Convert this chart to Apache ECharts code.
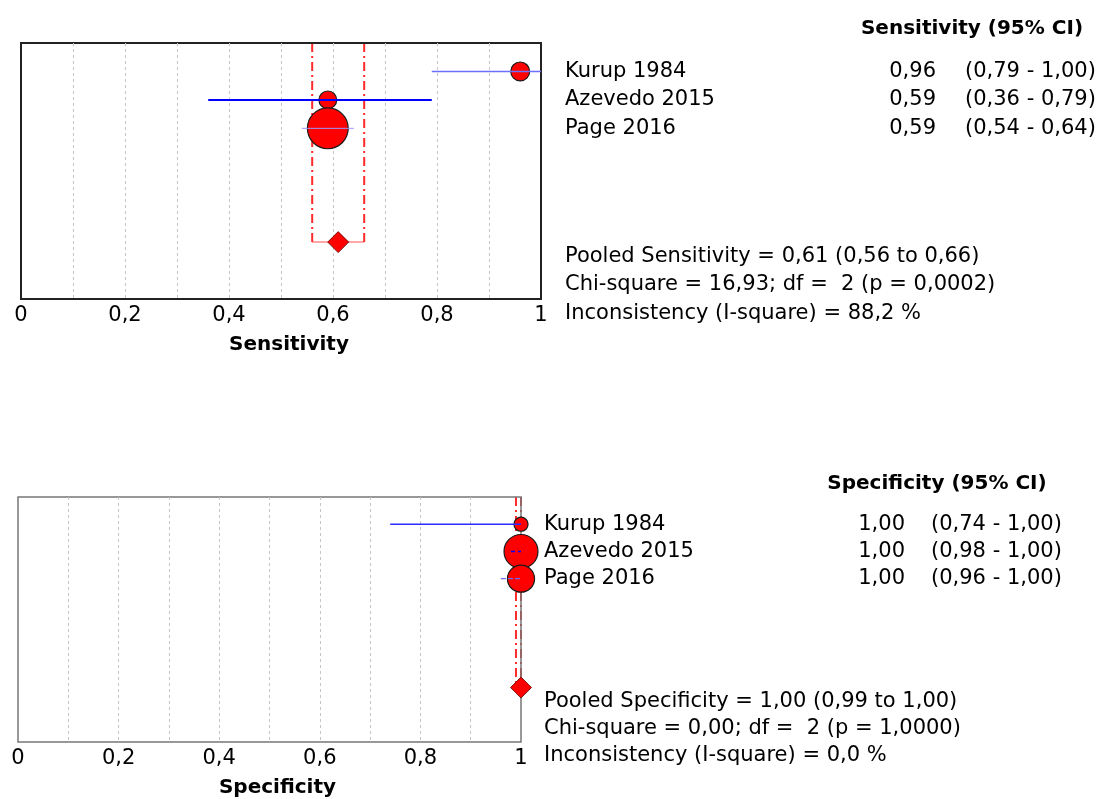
<!DOCTYPE html>
<html>
<head>
<meta charset="utf-8">
<title>Forest plot</title>
<script src="https://cdn.jsdelivr.net/npm/echarts@6/dist/echarts.min.js"></script>
<style>
  html, body { margin: 0; padding: 0; background: #fff; }
  #chart { width: 1101px; height: 799px; }
</style>
</head>
<body>
<div id="chart"></div>
<script>
// data
const studies = ['Kurup 1984', 'Azevedo 2015', 'Page 2016']

const sensEst = [0.96, 0.59, 0.59]
const sensLow = [0.79, 0.36, 0.54]
const sensHigh = [1.00, 0.79, 0.64]
const sensWeight = [9, 8, 42]
const sensPooled = [0.61, 0.56, 0.66] // estimate, low, high
const sensStats = [
  'Pooled Sensitivity = 0,61 (0,56 to 0,66)',
  'Chi-square = 16,93; df =  2 (p = 0,0002)',
  'Inconsistency (I-square) = 88,2 %'
]

const specEst = [1.00, 1.00, 1.00]
const specLow = [0.74, 0.98, 0.96]
const specHigh = [1.00, 1.00, 1.00]
const specWeight = [5, 29, 18.5]
const specPooled = [1.00, 0.99, 1.00]
const specStats = [
  'Pooled Specificity = 1,00 (0,99 to 1,00)',
  'Chi-square = 0,00; df =  2 (p = 1,0000)',
  'Inconsistency (I-square) = 0,0 %'
]

const xTicks = [0, 0.2, 0.4, 0.6, 0.8, 1]
const xTickLabels = ['0', '0,2', '0,4', '0,6', '0,8', '1']

// layout
const FONT = 'DejaVu Sans'
const ROWS = 9
const studyRow = i => i + 1
const pooledRow = 7

const panels = [
  {
    name: 'Sensitivity', est: sensEst, low: sensLow, high: sensHigh, weight: sensWeight,
    pooled: sensPooled, stats: sensStats,
    grid: { left: 21, top: 43, width: 520, height: 256 },
    border: { color: '#222', width: 2 },
    lineStyles: [
      { color: '#6f6fff', width: 1.5 },
      { color: '#0000ff', width: 2 },
      { color: '#9a9aff', width: 1 }
    ],
    textX: { name: 24, value: 395, ci: 424, header: 431 }
  },
  {
    name: 'Specificity', est: specEst, low: specLow, high: specHigh, weight: specWeight,
    pooled: specPooled, stats: specStats,
    grid: { left: 18, top: 497, width: 503, height: 248 },
    border: { color: '#777', width: 1.5 },
    lineStyles: [
      { color: '#2b2bff', width: 1.5 },
      { color: '#0000ff', width: 1.5, dash: [4, 3] },
      { color: '#6a6aff', width: 1.2, dash: [5, 2] }
    ],
    textX: { name: 23, value: 384, ci: 410, header: 416 }
  }
]

const fmt = v => v.toFixed(2).replace('.', ',')
const symbolSize = w => 6.3 * Math.sqrt(w)

function tickLabel(v) {
  const i = xTicks.findIndex(t => Math.abs(t - v) < 1e-6)
  return i >= 0 ? xTickLabels[i] : ''
}

const chart = echarts.init(document.getElementById('chart'))

const grids = []
const xAxes = []
const yAxes = []
const series = []

panels.forEach((p, k) => {
  grids.push({
    ...p.grid,
    show: true,
    borderColor: p.border.color,
    borderWidth: p.border.width,
    backgroundColor: 'transparent'
  })
  xAxes.push({
    gridIndex: k,
    type: 'value',
    min: 0,
    max: 1,
    interval: 0.1,
    name: p.name,
    nameLocation: 'middle',
    nameGap: 36,
    nameTextStyle: { fontFamily: FONT, fontSize: 20, fontWeight: 'bold', color: '#000', padding: [0, 0, 0, 16] },
    axisLine: { show: false },
    axisTick: { show: false },
    axisLabel: {
      fontFamily: FONT, fontSize: 21, color: '#000', margin: 6,
      showMinLabel: true, showMaxLabel: true,
      formatter: tickLabel
    },
    splitLine: {
      show: true,
      showMinLine: false,
      showMaxLine: false,
      lineStyle: { color: '#c4c4c4', width: 1, type: [3, 3] }
    }
  })
  yAxes.push({
    gridIndex: k,
    type: 'value',
    min: 0,
    max: ROWS,
    inverse: true,
    show: false,
    splitLine: { show: false }
  })

  // pooled CI bracket (dash-dot verticals, joined at the pooled row)
  series.push({
    type: 'custom',
    xAxisIndex: k,
    yAxisIndex: k,
    z: -1,
    silent: true,
    data: [[p.pooled[1], p.pooled[2], pooledRow]],
    encode: { x: [0, 1], y: 2 },
    renderItem: (params, api) => {
      const lo = api.value(0), hi = api.value(1), r = api.value(2)
      const a0 = api.coord([lo, 0]), a1 = api.coord([lo, r])
      const b0 = api.coord([hi, 0]), b1 = api.coord([hi, r])
      const dash = { stroke: '#ff2a2a', lineWidth: 2, lineDash: [9, 4, 2, 4] }
      return {
        type: 'group',
        children: [
          { type: 'line', shape: { x1: a1[0], y1: a1[1], x2: b1[0], y2: b1[1] }, style: { stroke: '#ff8c8c', lineWidth: 1.5 } },
          { type: 'line', shape: { x1: a0[0], y1: a0[1], x2: a1[0], y2: a1[1] }, style: dash },
          { type: 'line', shape: { x1: b0[0], y1: b0[1], x2: b1[0], y2: b1[1] }, style: dash }
        ]
      }
    }
  })

  // study points
  series.push({
    type: 'scatter',
    xAxisIndex: k,
    yAxisIndex: k,
    z: 3,
    symbol: 'circle',
    data: p.est.map((v, i) => ({ value: [v, studyRow(i)], symbolSize: symbolSize(p.weight[i]) })),
    itemStyle: { color: '#ff0000', borderColor: '#1a1a1a', borderWidth: 1.2, opacity: 1 },
    emphasis: { disabled: true }
  })

  // confidence intervals (drawn over the points)
  series.push({
    type: 'custom',
    xAxisIndex: k,
    yAxisIndex: k,
    z: 4,
    silent: true,
    data: p.low.map((lo, i) => [lo, p.high[i], studyRow(i), i]),
    encode: { x: [0, 1], y: 2 },
    renderItem: (params, api) => {
      const r = api.value(2)
      const a = api.coord([api.value(0), r])
      const b = api.coord([api.value(1), r])
      const s = p.lineStyles[api.value(3)]
      return {
        type: 'line',
        shape: { x1: a[0], y1: a[1], x2: b[0], y2: b[1] },
        style: { stroke: s.color, lineWidth: s.width, lineDash: s.dash || null }
      }
    }
  })

  // pooled diamond
  series.push({
    type: 'scatter',
    xAxisIndex: k,
    yAxisIndex: k,
    z: 5,
    symbol: 'diamond',
    symbolSize: [21, 21],
    data: [[p.pooled[0], pooledRow]],
    itemStyle: { color: '#ff0000', borderColor: '#5a0000', borderWidth: 0.8, opacity: 1 },
    emphasis: { disabled: true }
  })
})

chart.setOption({
  animation: false,
  grid: grids,
  xAxis: xAxes,
  yAxis: yAxes,
  series: series
})

// side table, placed on the rows of each panel's y axis
const graphic = []
const text = (x, y, str, opts) => graphic.push({
  type: 'text',
  x: x,
  y: y,
  silent: true,
  style: Object.assign({
    text: str,
    fill: '#000',
    fontFamily: FONT,
    fontSize: 21,
    align: 'left',
    verticalAlign: 'middle',
    textAlign: 'left',
    textVerticalAlign: 'middle'
  }, opts || {})
})

panels.forEach((p, k) => {
  const right = p.grid.left + p.grid.width
  const rowY = r => chart.convertToPixel({ yAxisIndex: k }, r)
  text(right + p.textX.header, rowY(-0.5), p.name + ' (95% CI)',
    { fontWeight: 'bold', fontSize: 20, align: 'center', textAlign: 'center' })
  studies.forEach((s, i) => {
    const y = rowY(studyRow(i))
    text(right + p.textX.name, y, s)
    text(right + p.textX.value, y, fmt(p.est[i]), { align: 'right', textAlign: 'right' })
    text(right + p.textX.ci, y, '(' + fmt(p.low[i]) + ' - ' + fmt(p.high[i]) + ')')
  })
  p.stats.forEach((s, i) => {
    text(right + p.textX.name, rowY(pooledRow + 0.5 + i), s)
  })
})

chart.setOption({ graphic: graphic })
</script>
</body>
</html>
